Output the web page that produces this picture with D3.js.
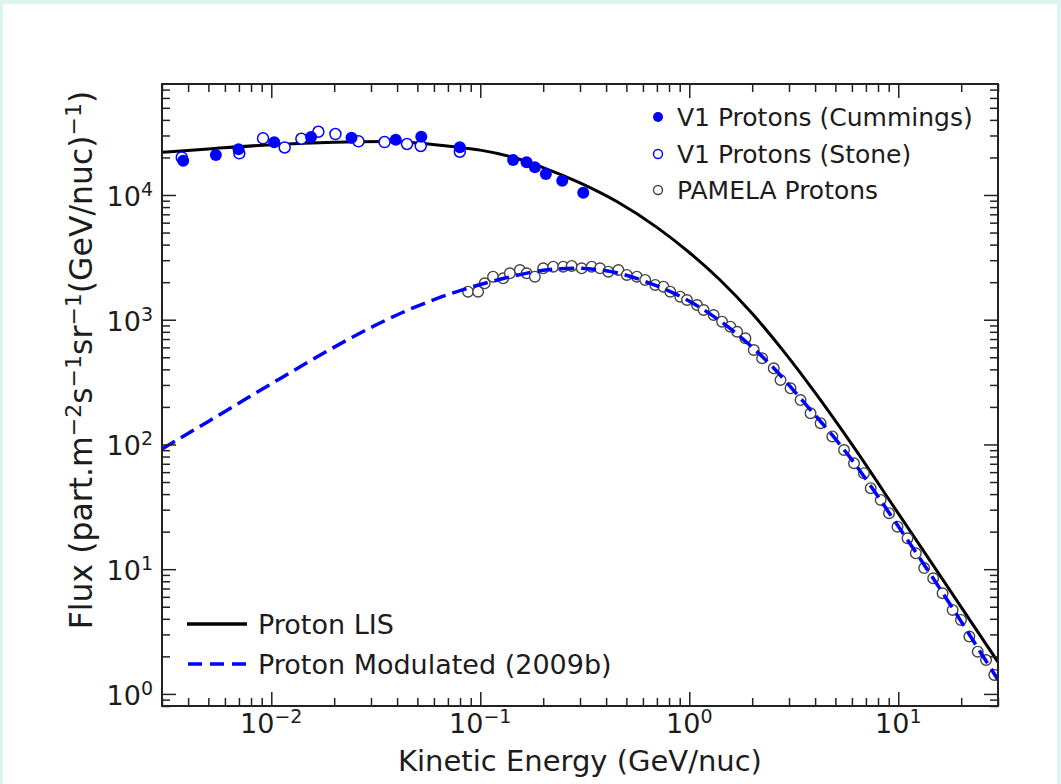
<!DOCTYPE html>
<html>
<head>
<meta charset="utf-8">
<script src="https://cdn.jsdelivr.net/npm/d3@7"></script>
<style>
  body { margin: 0; background: #ddf5f1; }
  text { font-family: "DejaVu Sans", sans-serif; fill: #1c1c1c; }
</style>
</head>
<body>
<div id="wrapper"></div>
<script>
// kinetic energy (GeV/nuc), flux
const lisCurve = [
  [0.003, 22000], [0.005, 23400], [0.01, 25300], [0.02, 26500], [0.035, 26800],
  [0.05, 26100], [0.08, 24000], [0.1, 22900], [0.15, 19600], [0.2, 16600],
  [0.3, 12500], [0.45, 8860], [0.7, 5500], [1, 3460], [1.4, 2090], [2, 1120],
  [2.8, 570], [4, 260], [6, 100], [10, 28], [15, 10.2], [20, 4.97], [30, 1.8]
];
const modCurve = [
  [0.003, 92], [0.005, 153], [0.0075, 230], [0.011, 337], [0.015, 457],
  [0.022, 658], [0.032, 915], [0.045, 1194], [0.065, 1522], [0.09, 1820],
  [0.13, 2148], [0.2, 2490], [0.28, 2590], [0.4, 2470], [0.65, 1960],
  [1.13, 1250], [1.9, 650], [2.5, 420], [3.4, 235], [5.9, 78], [10.3, 20.5],
  [15, 8.0], [20, 3.8], [25, 2.1], [30, 1.3]
];
const cummingsPts = [
  [0.00379, 18840], [0.00543, 20940], [0.00697, 23240], [0.01033, 26430],
  [0.0155, 29200], [0.0242, 28780], [0.0394, 27730], [0.0522, 29330],
  [0.0798, 24110], [0.1436, 19090], [0.1666, 18290], [0.1825, 16680],
  [0.206, 14730], [0.2467, 13020], [0.311, 10430]
];
const stonePts = [
  [0.00373, 19990], [0.00703, 21580], [0.00913, 28450], [0.01159, 24040],
  [0.01393, 28250], [0.0168, 32140], [0.02027, 30810], [0.02614, 26930],
  [0.03483, 26590], [0.0446, 25640], [0.0519, 24710], [0.0798, 22220]
];
const pamelaPts = [
  [0.0874, 1679], [0.0976, 1679], [0.105, 1959], [0.1151, 2213], [0.1287, 2147],
  [0.1385, 2355], [0.1547, 2504], [0.1667, 2355], [0.1825, 2213], [0.2001, 2583],
  [0.2234, 2663], [0.2494, 2663], [0.2738, 2698], [0.3057, 2583], [0.3413, 2663],
  [0.3742, 2583], [0.41, 2427], [0.458, 2504], [0.5026, 2285], [0.5613, 2213],
  [0.6152, 2083], [0.687, 1900], [0.7527, 1842], [0.811, 1679], [0.905, 1530],
  [0.975, 1439], [1.089, 1312], [1.171, 1197], [1.308, 1091], [1.435, 964],
  [1.573, 879], [1.694, 801], [1.856, 709], [2.034, 572], [2.231, 491],
  [2.537, 408], [2.732, 329], [3.051, 282], [3.407, 227], [3.804, 178],
  [4.249, 148], [4.836, 116], [5.5, 90.3], [6.14, 70.7], [6.85, 58.8],
  [7.38, 44.6], [8.24, 35.9], [9.03, 28.1], [9.91, 21.9], [11.07, 17.7],
  [12.13, 13.4], [13.3, 10.2], [14.69, 8.46], [16.29, 6.41], [18.2, 4.71],
  [19.95, 3.92], [21.88, 2.88], [24.0, 2.18], [26.3, 1.87], [28.8, 1.42]
];
const xMajor = [0.01, 0.1, 1, 10];
const xExp = ["\u22122", "\u22121", "0", "1"];
const yMajor = [1, 10, 100, 1000, 10000];
const yExp = ["0", "1", "2", "3", "4"];
const topLegend = ["V1 Protons (Cummings)", "V1 Protons (Stone)", "PAMELA Protons"];
const lineLegend = ["Proton LIS", "Proton Modulated (2009b)"];

const W = 1061, H = 784;
const plot = { left: 162, top: 84, right: 998, bottom: 706 };
const blue = "#0000ff";

const svg = d3.select("#wrapper").append("svg").attr("width", W).attr("height", H);
svg.append("rect").attr("x", 3).attr("y", 4).attr("width", W - 7).attr("height", H - 4).attr("fill", "#fff");

const x = d3.scaleLog().domain([0.003, 30]).range([plot.left, plot.right]);
const y = d3.scaleLog().domain([0.8, 77600]).range([plot.bottom, plot.top]);

svg.append("clipPath").attr("id", "clip").append("rect")
  .attr("x", plot.left).attr("y", plot.top)
  .attr("width", plot.right - plot.left).attr("height", plot.bottom - plot.top);

const g = svg.append("g").attr("clip-path", "url(#clip)");
const line = d3.line().x(d => x(d[0])).y(d => y(d[1])).curve(d3.curveMonotoneX);

g.append("path").attr("d", line(lisCurve))
  .attr("fill", "none").attr("stroke", "#000").attr("stroke-width", 3);

g.selectAll(".pam").data(pamelaPts).join("circle")
  .attr("cx", d => x(d[0])).attr("cy", d => y(d[1])).attr("r", 5.3)
  .attr("fill", "#fff").attr("stroke", "#444").attr("stroke-width", 1.4);

g.append("path").attr("d", line(modCurve))
  .attr("fill", "none").attr("stroke", blue).attr("stroke-width", 3.5)
  .attr("stroke-dasharray", "15,7");

g.selectAll(".stone").data(stonePts).join("circle")
  .attr("cx", d => x(d[0])).attr("cy", d => y(d[1])).attr("r", 5.5)
  .attr("fill", "#fff").attr("stroke", blue).attr("stroke-width", 1.5);

g.selectAll(".cum").data(cummingsPts).join("circle")
  .attr("cx", d => x(d[0])).attr("cy", d => y(d[1])).attr("r", 6)
  .attr("fill", blue);

// axes: inward ticks on all four sides
const xAll = x.ticks(), yAll = y.ticks();
const isMajor = v => Math.abs(Math.log10(v) - Math.round(Math.log10(v))) < 1e-9;
const xMinor = xAll.filter(v => !isMajor(v)), yMinor = yAll.filter(v => !isMajor(v));

function addAxis(axisFn, scale, vals, size, tx, ty) {
  const a = svg.append("g").attr("transform", `translate(${tx},${ty})`)
    .call(axisFn(scale).tickValues(vals).tickSize(-size).tickFormat(""));
  a.select(".domain").remove();
  a.selectAll(".tick line").attr("stroke", "#222").attr("stroke-width", 1.5);
}
addAxis(d3.axisBottom, x, xMajor, 14, 0, plot.bottom);
addAxis(d3.axisBottom, x, xMinor, 8, 0, plot.bottom);
addAxis(d3.axisTop, x, xMajor, 14, 0, plot.top);
addAxis(d3.axisTop, x, xMinor, 8, 0, plot.top);
addAxis(d3.axisLeft, y, yMajor, 14, plot.left, 0);
addAxis(d3.axisLeft, y, yMinor, 8, plot.left, 0);
addAxis(d3.axisRight, y, yMajor, 14, plot.right, 0);
addAxis(d3.axisRight, y, yMinor, 8, plot.right, 0);

svg.append("rect").attr("x", plot.left).attr("y", plot.top)
  .attr("width", plot.right - plot.left).attr("height", plot.bottom - plot.top)
  .attr("fill", "none").attr("stroke", "#222").attr("stroke-width", 2);

function powerLabel(sel, exp) {
  sel.append("tspan").text("10");
  sel.append("tspan").attr("dy", -10).attr("font-size", 19).text(exp);
}
xMajor.forEach((v, i) => {
  svg.append("text").attr("x", x(v)).attr("y", 733).attr("text-anchor", "middle")
    .attr("font-size", 27).call(powerLabel, xExp[i]);
});
yMajor.forEach((v, i) => {
  svg.append("text").attr("x", 153).attr("y", y(v) + 11).attr("text-anchor", "end")
    .attr("font-size", 27).call(powerLabel, yExp[i]);
});

// axis titles
svg.append("text").attr("x", (plot.left + plot.right) / 2).attr("y", 771)
  .attr("text-anchor", "middle").attr("font-size", 29).text("Kinetic Energy (GeV/nuc)");

const yl = svg.append("text").attr("transform", "translate(92,360) rotate(-90)")
  .attr("text-anchor", "middle").attr("font-size", 31.5);
const ylParts = [["Flux (part.m", 0], ["\u22122", 1], ["s", 0], ["\u22121", 1], ["sr", 0],
  ["\u22121", 1], ["(GeV/nuc)", 0], ["\u22121", 1], [")", 0]];
let prevSup = 0;
ylParts.forEach(([t, sup]) => {
  const ts = yl.append("tspan").text(t);
  if (sup) ts.attr("font-size", 22).attr("dy", -11);
  else if (prevSup) ts.attr("dy", 11);
  prevSup = sup;
});

// legend (markers)
const legY = [117, 154, 190];
svg.append("circle").attr("cx", 658).attr("cy", legY[0]).attr("r", 5).attr("fill", blue);
svg.append("circle").attr("cx", 658).attr("cy", legY[1]).attr("r", 4.5)
  .attr("fill", "#fff").attr("stroke", blue).attr("stroke-width", 1.4);
svg.append("circle").attr("cx", 658).attr("cy", legY[2]).attr("r", 4.5)
  .attr("fill", "#fff").attr("stroke", "#444").attr("stroke-width", 1.4);
topLegend.forEach((t, i) => {
  svg.append("text").attr("x", 677).attr("y", legY[i] + 9).attr("font-size", 25).text(t);
});

// legend (lines)
const lineY = [624, 664];
svg.append("line").attr("x1", 187).attr("x2", 247).attr("y1", lineY[0]).attr("y2", lineY[0])
  .attr("stroke", "#000").attr("stroke-width", 3.5);
svg.append("line").attr("x1", 188).attr("x2", 247).attr("y1", lineY[1]).attr("y2", lineY[1])
  .attr("stroke", blue).attr("stroke-width", 3.5).attr("stroke-dasharray", "14,8");
lineLegend.forEach((t, i) => {
  svg.append("text").attr("x", 258).attr("y", lineY[i] + 10).attr("font-size", 27).text(t);
});
</script>
</body>
</html>
